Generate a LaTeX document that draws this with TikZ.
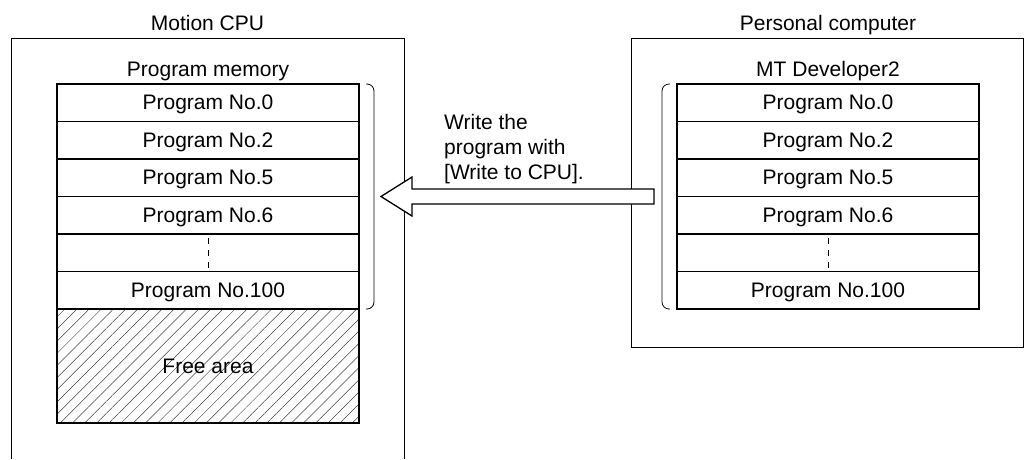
\documentclass[tikz,border=0pt]{standalone}
\usepackage{fontspec}
\setmainfont{Liberation Sans}
\usetikzlibrary{positioning, calc, patterns.meta}

\begin{document}
\begin{tikzpicture}[
        x=1pt, y=-1pt,
        font=\fontsize{21}{25}\selectfont,
        frame/.style={draw=black, line width=1pt},
        title/.style={inner sep=0pt, anchor=base},
        cell/.style={
            draw=black,
            line width=1.2pt,
            minimum width=302pt,
            minimum height=37.5pt,
            text height=15pt,
            text depth=1pt,
            inner sep=0pt,
            outer sep=0pt
        },
        freecell/.style={
            cell,
            minimum height=114pt,
            pattern={Lines[angle=45, distance=8.6pt, line width=0.5pt]},
            pattern color=black!75
        },
        gap/.style={draw, line width=1pt, dash pattern=on 6pt off 6pt},
        bracket/.style={draw, line width=0.8pt, rounded corners=7pt},
        hollow/.style={draw, fill=white, line width=1.3pt, line join=miter}
    ]
    \useasboundingbox (0,0) rectangle (1024,459);

    % Motion CPU
    \node[title] (cpu) at (207.5,30.5) {Motion CPU};
    \draw[frame] (11,459) -- (11,38) -- (404,38) -- (404,459);
    \node[title] (mem) at (208,76) {Program memory};

    \node[cell, anchor=north] (m0) at (208,84) {Program No.0};
    \node[cell, below=0pt of m0] (m2) {Program No.2};
    \node[cell, below=0pt of m2] (m5) {Program No.5};
    \node[cell, below=0pt of m5] (m6) {Program No.6};
    \node[cell, below=0pt of m6] (mdots) {};
    \node[cell, below=0pt of mdots] (m100) {Program No.100};
    \node[freecell, below=0pt of m100] (mfree) {Free area};
    \draw[gap] ($(mdots.center)+(0,-15)$) -- ($(mdots.center)+(0,15)$);
    \draw[bracket] ($(m0.north east)+(7,0)$) -- ++(8,0)
        -- ($(m100.south east)+(15,0)$) -- ++(-8,0);

    % Personal computer
    \node[title] (pc) at (828,30.5) {Personal computer};
    \draw[frame] (631,38) rectangle (1023,347);
    \node[title] (mt) at (828,76) {MT Developer2};

    \node[cell, anchor=north] (p0) at (828,84) {Program No.0};
    \node[cell, below=0pt of p0] (p2) {Program No.2};
    \node[cell, below=0pt of p2] (p5) {Program No.5};
    \node[cell, below=0pt of p5] (p6) {Program No.6};
    \node[cell, below=0pt of p6] (pdots) {};
    \node[cell, below=0pt of pdots] (p100) {Program No.100};
    \draw[gap] ($(pdots.center)+(0,-15)$) -- ($(pdots.center)+(0,15)$);
    \draw[bracket] ($(p0.north west)+(-7,0)$) -- ++(-8,0)
        -- ($(p100.south west)+(-15,0)$) -- ++(8,0);

    % Write arrow
    \coordinate (tail) at (654,196.5);
    \coordinate (tip) at (381,196.5);
    \draw[hollow] ($(tail)+(0,-7.5)$) -- ($(tip)+(31,-7.5)$) -- ($(tip)+(31,-19.5)$)
        -- (tip) -- ($(tip)+(31,19.5)$) -- ($(tip)+(31,7.5)$) -- ($(tail)+(0,7.5)$) -- cycle;
    \node[anchor=north west, align=left, inner sep=0pt] (note) at (444,114)
        {Write the\\program with\\{[}Write to CPU].};

\end{tikzpicture}
\end{document}
